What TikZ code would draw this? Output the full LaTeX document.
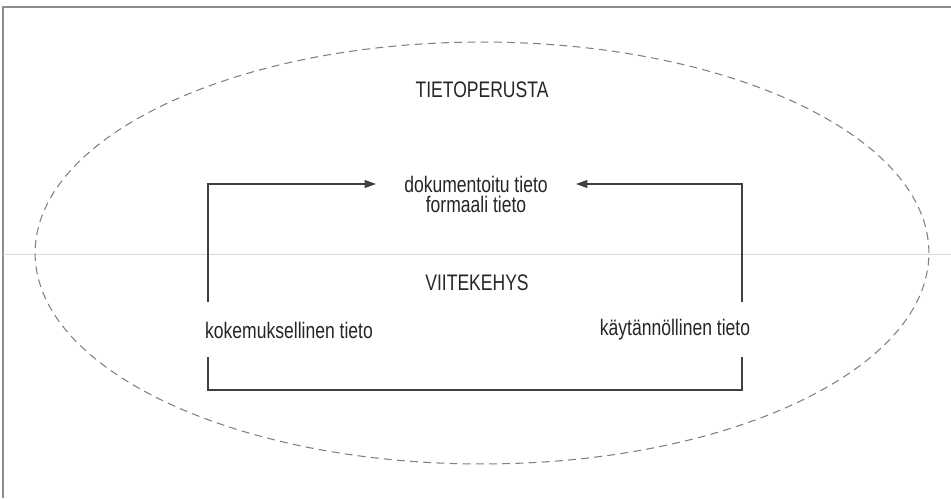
\documentclass[tikz,border=0pt]{standalone}
\usepackage{fontspec}
\setmainfont{Liberation Sans}[FakeStretch=0.78]
\usetikzlibrary{arrows.meta}
\begin{document}
\begin{tikzpicture}[x=0.02cm,y=-0.02cm,
		teksti/.style={font=\fontsize{12.8}{15}\selectfont, text=black!85, inner sep=0pt},
		viiva/.style={draw=black!75, line width=0.7pt},
		nuoli/.style={viiva, -{Triangle[length=6.5pt,width=4.5pt]}}]
		\useasboundingbox (0,0) rectangle (951,498);
		\fill[white] (0,0) rectangle (951,498);
		
		% kehys ja apuviiva
		\draw[black!45, line width=0.7pt] (3,498) -- (3,7) -- (951,7);
		\draw[black!15, line width=0.5pt] (3,254) -- (951,254);
		
		% tietoperusta
		\draw[black!50, line width=0.6pt, dash pattern=on 4.5pt off 3pt] (482,253) ellipse [x radius=8.94cm, y radius=4.22cm];
		\node[teksti] (perusta) at (482,90) {TIETOPERUSTA};
		
		\node[teksti, inner xsep=0.56cm] (dok) at (476,184) {dokumentoitu tieto};
		\node[teksti] (form) at (476,204) {formaali tieto};
		\node[teksti] (viite) at (477,283) {VIITEKEHYS};
		\node[teksti] (koke) at (289,330) {kokemuksellinen tieto};
		\node[teksti] (kayt) at (675,330) {käytännöllinen tieto};
		
		\coordinate (vasen) at (208,302);
		\coordinate (oikea) at (742,302);
		\coordinate (vasenala) at (208,357);
		\coordinate (oikeaala) at (742,357);
		\coordinate (pohja) at (475,390);
		
		\draw[nuoli] (vasen) |- (dok.west);
		\draw[nuoli] (oikea) |- (dok.east);
		\draw[viiva] (vasenala) |- (pohja) -| (oikeaala);
	\end{tikzpicture}
\end{document}
